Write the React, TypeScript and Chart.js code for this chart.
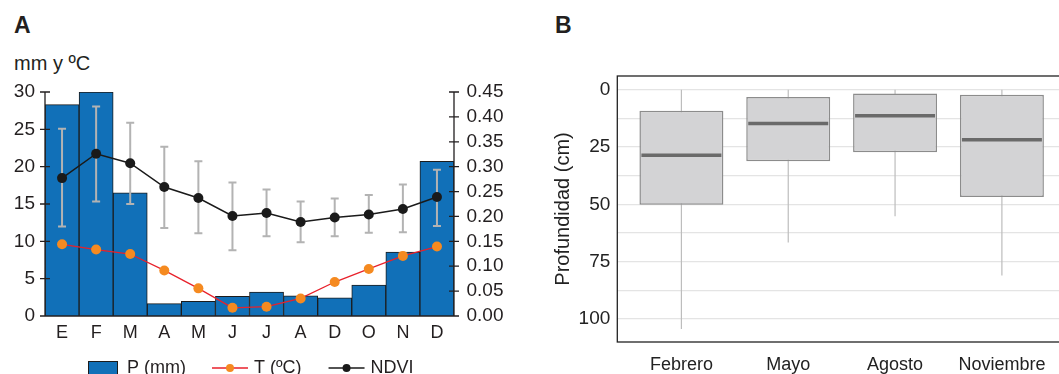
import React, { useEffect, useRef } from 'react';
import { Chart, registerables } from 'chart.js';

Chart.register(...registerables);

const FONT = '"Liberation Sans", Arial, Helvetica, sans-serif';
const TEXT = '#231f20';

// ---- Panel A data ----
const months = ['E', 'F', 'M', 'A', 'M', 'J', 'J', 'A', 'D', 'O', 'N', 'D'];
const precip = [28.3, 30.0, 16.5, 1.65, 1.95, 2.65, 3.2, 2.7, 2.45, 4.15, 8.55, 20.7];
const temp = [9.6, 8.9, 8.3, 6.1, 3.7, 1.1, 1.25, 2.35, 4.55, 6.3, 8.05, 9.3];
const ndvi = [0.277, 0.326, 0.307, 0.259, 0.237, 0.201, 0.207, 0.189, 0.198, 0.204, 0.215, 0.239];
const ndviHigh = [0.376, 0.421, 0.388, 0.34, 0.311, 0.268, 0.254, 0.23, 0.236, 0.243, 0.264, 0.294];
const ndviLow = [0.18, 0.23, 0.225, 0.177, 0.166, 0.132, 0.16, 0.148, 0.16, 0.167, 0.168, 0.181];
const leftTicks = [0, 5, 10, 15, 20, 25, 30];
const rightTicks = [0, 0.05, 0.1, 0.15, 0.2, 0.25, 0.3, 0.35, 0.4, 0.45];

// ---- Panel B data ----
const boxCats = ['Febrero', 'Mayo', 'Agosto', 'Noviembre'];
const whiskerTop = [0, 0, 0, 0];
const q1 = [9.2, 3.2, 1.6, 2.2];
const medians = [28.6, 14.7, 11.3, 21.8];
const q3 = [50.2, 31.2, 27.3, 46.8];
const whiskerBottom = [104.3, 66.6, 55.2, 81];
const depthTicks = [0, 25, 50, 75, 100];
const depthGrid = [0, 12.5, 25, 37.5, 50, 62.5, 75, 87.5, 100];

const BAR = '#1170b8';
const BAR_BORDER = '#1c1c1c';
const T_LINE = '#e8212b';
const T_POINT = '#f58a20';
const NDVI_C = '#1a1a1a';
const ERR = '#b3b3b3';

const axesA = {
  id: 'axesA',
  afterDraw(chart: any) {
    const { ctx, chartArea: ca } = chart;
    const y = chart.scales.y;
    const y1 = chart.scales.y1;
    ctx.save();
    ctx.strokeStyle = TEXT;
    ctx.lineWidth = 1.3;
    ctx.beginPath();
    ctx.moveTo(ca.left, ca.top);
    ctx.lineTo(ca.left, ca.bottom);
    ctx.moveTo(ca.right, ca.top);
    ctx.lineTo(ca.right, ca.bottom);
    ctx.moveTo(ca.left, ca.bottom);
    ctx.lineTo(ca.right, ca.bottom);
    y.ticks.forEach((t: any) => {
      const p = y.getPixelForValue(t.value);
      ctx.moveTo(ca.left - 5, p);
      ctx.lineTo(ca.left + 5, p);
    });
    y1.ticks.forEach((t: any) => {
      const p = y1.getPixelForValue(t.value);
      ctx.moveTo(ca.right - 5, p);
      ctx.lineTo(ca.right + 5, p);
    });
    ctx.stroke();
    ctx.restore();
  },
};

const errorBars = {
  id: 'errorBars',
  beforeDatasetDraw(chart: any, args: any) {
    if (args.index !== 1) return;
    const { ctx } = chart;
    const meta = chart.getDatasetMeta(1);
    const ys = chart.scales.y1;
    ctx.save();
    ctx.strokeStyle = ERR;
    ctx.lineWidth = 2;
    ctx.beginPath();
    meta.data.forEach((pt: any, i: number) => {
      const x = pt.x;
      const hi = ys.getPixelForValue(ndviHigh[i]);
      const lo = ys.getPixelForValue(ndviLow[i]);
      ctx.moveTo(x, hi);
      ctx.lineTo(x, lo);
      ctx.moveTo(x - 4, hi);
      ctx.lineTo(x + 4, hi);
      ctx.moveTo(x - 4, lo);
      ctx.lineTo(x + 4, lo);
    });
    ctx.stroke();
    ctx.restore();
  },
};

const legendA = {
  id: 'legendA',
  afterDraw(chart: any) {
    const { ctx, chartArea: ca } = chart;
    const ds = chart.data.datasets;
    const y = ca.bottom + 52;
    ctx.save();
    ctx.font = `18px ${FONT}`;
    ctx.textBaseline = 'middle';
    let x = ca.left + 43;
    // bar item
    ctx.fillStyle = BAR;
    ctx.fillRect(x, y - 7, 30, 18);
    ctx.strokeStyle = BAR_BORDER;
    ctx.lineWidth = 1;
    ctx.strokeRect(x + 0.5, y - 6.5, 29, 17);
    x += 39;
    ctx.fillStyle = TEXT;
    ctx.fillText(ds[0].label, x, y);
    x += ctx.measureText(ds[0].label).width + 26;
    // line items
    [2, 1].forEach((k) => {
      const d = ds[k];
      ctx.strokeStyle = d.borderColor;
      ctx.lineWidth = 1.5;
      ctx.beginPath();
      ctx.moveTo(x, y);
      ctx.lineTo(x + 36, y);
      ctx.stroke();
      ctx.fillStyle = d.pointBackgroundColor;
      ctx.beginPath();
      ctx.arc(x + 18, y, 4, 0, Math.PI * 2);
      ctx.fill();
      x += 42;
      ctx.fillStyle = TEXT;
      ctx.fillText(d.label, x, y);
      x += ctx.measureText(d.label).width + 27;
    });
    ctx.restore();
  },
};

const boxPlugin = {
  id: 'boxPlugin',
  beforeDatasetsDraw(chart: any) {
    const { ctx } = chart;
    const xs = chart.scales.x;
    const ys = chart.scales.y;
    ctx.save();
    ctx.strokeStyle = '#bdbdbd';
    ctx.lineWidth = 1.2;
    ctx.beginPath();
    boxCats.forEach((_, i) => {
      const x = xs.getPixelForValue(i + 1);
      ctx.moveTo(x, ys.getPixelForValue(whiskerTop[i]));
      ctx.lineTo(x, ys.getPixelForValue(whiskerBottom[i]));
    });
    ctx.stroke();
    ctx.restore();
  },
  afterDatasetsDraw(chart: any) {
    const { ctx } = chart;
    const ys = chart.scales.y;
    const meta = chart.getDatasetMeta(0);
    ctx.save();
    ctx.strokeStyle = '#6a6a6a';
    ctx.lineWidth = 3.5;
    ctx.beginPath();
    meta.data.forEach((bar: any, i: number) => {
      const p = ys.getPixelForValue(medians[i]);
      const half = bar.width / 2 - 2;
      ctx.moveTo(bar.x - half, p);
      ctx.lineTo(bar.x + half, p);
    });
    ctx.stroke();
    ctx.restore();
  },
  afterDraw(chart: any) {
    const { ctx, chartArea: ca } = chart;
    ctx.save();
    ctx.strokeStyle = '#222';
    ctx.lineWidth = 1.3;
    ctx.strokeRect(ca.left, ca.top, ca.right - ca.left, ca.bottom - ca.top);
    ctx.restore();
  },
};

export default function App() {
  const refA = useRef<HTMLCanvasElement>(null);
  const refB = useRef<HTMLCanvasElement>(null);

  useEffect(() => {
    const chartA = new Chart(refA.current as HTMLCanvasElement, {
      type: 'bar',
      data: {
        labels: months,
        datasets: [
          {
            type: 'bar',
            label: 'P (mm)',
            data: precip,
            yAxisID: 'y',
            backgroundColor: BAR,
            borderColor: BAR_BORDER,
            borderWidth: 1,
            borderSkipped: 'start',
            categoryPercentage: 1,
            barPercentage: 1,
            order: 3,
          } as any,
          {
            type: 'line',
            label: 'NDVI',
            data: ndvi,
            yAxisID: 'y1',
            borderColor: NDVI_C,
            borderWidth: 1.5,
            pointBackgroundColor: NDVI_C,
            pointBorderWidth: 0,
            pointRadius: 5,
            tension: 0,
            order: 2,
          } as any,
          {
            type: 'line',
            label: 'T (ºC)',
            data: temp,
            yAxisID: 'y',
            borderColor: T_LINE,
            borderWidth: 1.3,
            pointBackgroundColor: T_POINT,
            pointBorderWidth: 0,
            pointRadius: 5,
            tension: 0,
            order: 1,
          } as any,
        ],
      },
      options: {
        animation: false,
        responsive: false,
        events: [],
        layout: { padding: { top: 92, left: 0, right: 0, bottom: 0 } },
        plugins: { legend: { display: false }, tooltip: { enabled: false } },
        scales: {
          x: {
            type: 'category',
            offset: true,
            grid: { display: false, drawTicks: false },
            border: { display: false },
            ticks: { font: { family: FONT, size: 18 }, color: TEXT, padding: 6, maxRotation: 0, autoSkip: false },
            afterFit: (s: any) => { s.height = 58; },
          },
          y: {
            position: 'left',
            min: 0,
            max: 30,
            afterBuildTicks: (s: any) => { s.ticks = leftTicks.map((v) => ({ value: v })); },
            grid: { display: false, drawTicks: false },
            border: { display: false },
            ticks: { font: { family: FONT, size: 19 }, color: TEXT, padding: 10, autoSkip: false },
            afterFit: (s: any) => { s.width = 45; },
          },
          y1: {
            position: 'right',
            min: 0,
            max: 0.45,
            afterBuildTicks: (s: any) => { s.ticks = rightTicks.map((v) => ({ value: v })); },
            grid: { display: false, drawTicks: false },
            border: { display: false },
            ticks: {
              font: { family: FONT, size: 19 },
              color: TEXT,
              padding: 12.5,
              autoSkip: false,
              callback: (v: any) => Number(v).toFixed(2),
            },
            afterFit: (s: any) => { s.width = 76; },
          },
        },
      } as any,
      plugins: [errorBars, axesA, legendA],
    });

    const chartB = new Chart(refB.current as HTMLCanvasElement, {
      type: 'bar',
      data: {
        datasets: [
          {
            label: 'Profundidad',
            data: boxCats.map((_, i) => ({ x: i + 1, y: [q1[i], q3[i]] })),
            backgroundColor: '#d3d3d5',
            borderColor: '#8c8c8c',
            borderWidth: 1.5,
            borderSkipped: false,
            barPercentage: 0.786,
            categoryPercentage: 1,
          } as any,
        ],
      },
      options: {
        animation: false,
        responsive: false,
        events: [],
        layout: { padding: { top: 76, left: 0, right: 4, bottom: 0 } },
        plugins: { legend: { display: false }, tooltip: { enabled: false } },
        scales: {
          x: {
            type: 'linear',
            min: 0.4,
            max: 4.6,
            offset: false,
            afterBuildTicks: (s: any) => { s.ticks = boxCats.map((_, i) => ({ value: i + 1 })); },
            grid: { display: false, drawTicks: false },
            border: { display: false },
            ticks: {
              font: { family: FONT, size: 18 },
              color: '#222',
              padding: 12,
              maxRotation: 0,
              autoSkip: false,
              callback: (_v: any, i: number) => boxCats[i],
            },
            afterFit: (s: any) => { s.height = 32; },
          },
          y: {
            type: 'linear',
            reverse: true,
            min: -6,
            max: 110,
            afterBuildTicks: (s: any) => { s.ticks = depthGrid.map((v) => ({ value: v })); },
            grid: { color: '#e4e4e4', lineWidth: 1.3, drawTicks: false },
            border: { display: false },
            ticks: {
              font: { family: FONT, size: 19 },
              color: '#222',
              padding: 7,
              autoSkip: false,
              callback: (v: any) => (depthTicks.includes(Number(v)) ? String(v) : ''),
            },
            title: {
              display: true,
              text: 'Profundidad (cm)',
              font: { family: FONT, size: 20 },
              color: '#222',
              padding: { top: 21, bottom: 0 },
            },
            afterFit: (s: any) => { s.width = 87.3; },
          },
        },
      } as any,
      plugins: [boxPlugin],
    });

    return () => {
      chartA.destroy();
      chartB.destroy();
    };
  }, []);

  return (
    <div
      style={{
        position: 'fixed',
        left: 0,
        top: 0,
        width: 1059,
        height: 374,
        overflow: 'hidden',
        background: '#fff',
        fontFamily: FONT,
        color: TEXT,
      }}
    >
      <div style={{ position: 'absolute', left: 14, top: 14.3, fontSize: 23, lineHeight: '23px', fontWeight: 'bold' }}>A</div>
      <div style={{ position: 'absolute', left: 555, top: 14.3, fontSize: 23, lineHeight: '23px', fontWeight: 'bold' }}>B</div>
      <div style={{ position: 'absolute', left: 14, top: 53, fontSize: 20, lineHeight: '20px' }}>mm y ºC</div>
      <canvas
        ref={refA}
        width={530}
        height={374}
        style={{ position: 'absolute', left: 0, top: 0, width: 530, height: 374 }}
      />
      <canvas
        ref={refB}
        width={540}
        height={374}
        style={{ position: 'absolute', left: 530, top: 0, width: 540, height: 374 }}
      />
    </div>
  );
}
